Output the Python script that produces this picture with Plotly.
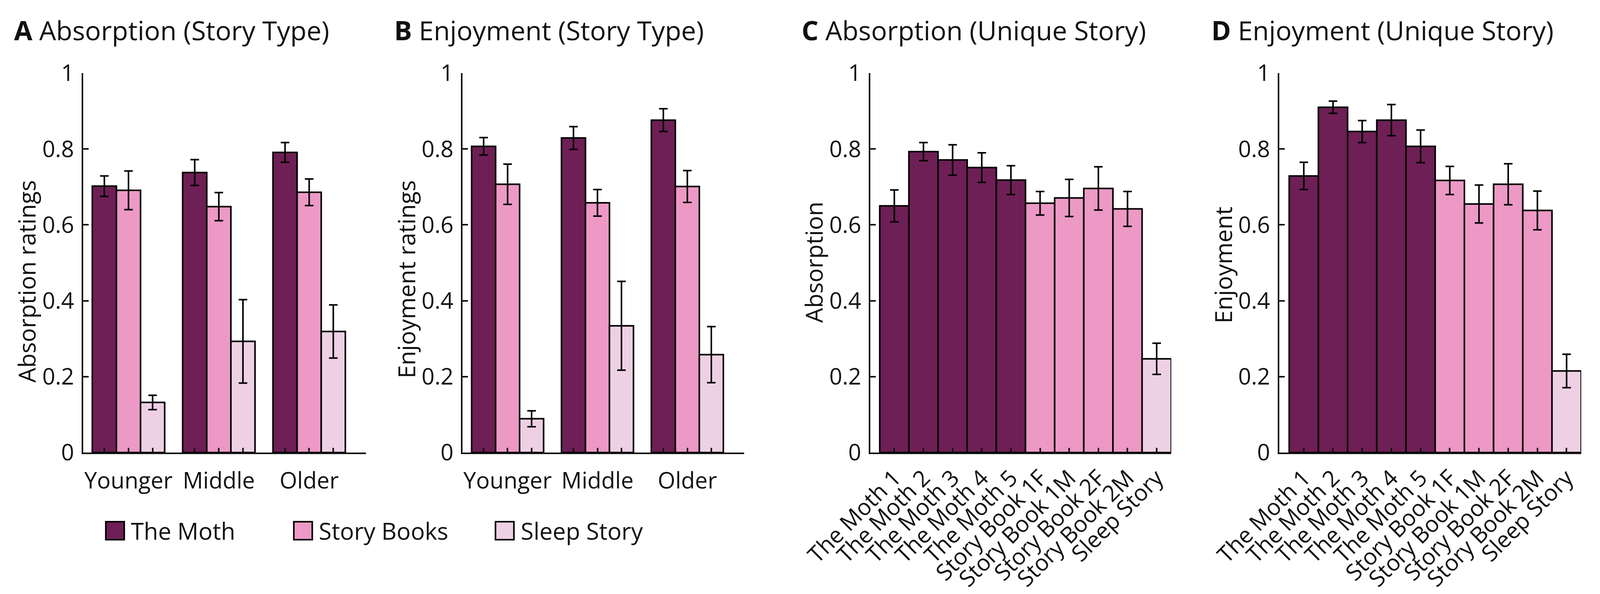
import plotly.graph_objects as go
import numpy as np

# The reference is 4340x1520; the browser viewport is 4096 px wide, so the figure
# is laid out in paper fractions of the reference and sized to the viewport.
REF_W, REF_H = 4340, 1520
W, H = 4096, 1520

# ---------------- data ----------------
groups = ["Younger", "Middle", "Older"]
series = ["The Moth", "Story Books", "Sleep Story"]
colors = ["#6E1F55", "#EC99C5", "#EED0E4"]

# Panel A: Absorption by story type
absA_moth = [0.702, 0.738, 0.791]
absA_moth_err = [0.027, 0.034, 0.026]
absA_books = [0.691, 0.648, 0.686]
absA_books_err = [0.051, 0.037, 0.035]
absA_sleep = [0.132, 0.293, 0.319]
absA_sleep_err = [0.019, 0.110, 0.070]

# Panel B: Enjoyment by story type
enjB_moth = [0.807, 0.829, 0.876]
enjB_moth_err = [0.023, 0.030, 0.030]
enjB_books = [0.707, 0.658, 0.701]
enjB_books_err = [0.053, 0.035, 0.042]
enjB_sleep = [0.089, 0.334, 0.258]
enjB_sleep_err = [0.021, 0.117, 0.074]

# Panels C/D: unique stories
stories = ["The Moth 1", "The Moth 2", "The Moth 3", "The Moth 4", "The Moth 5",
           "Story Book 1F", "Story Book 1M", "Story Book 2F", "Story Book 2M", "Sleep Story"]
story_type = [0, 0, 0, 0, 0, 1, 1, 1, 1, 2]
absC = [0.650, 0.793, 0.771, 0.751, 0.718, 0.657, 0.671, 0.696, 0.642, 0.247]
absC_err = [0.042, 0.024, 0.040, 0.039, 0.038, 0.031, 0.049, 0.057, 0.046, 0.041]
enjD = [0.729, 0.910, 0.846, 0.876, 0.807, 0.717, 0.655, 0.707, 0.638, 0.215]
enjD_err = [0.036, 0.016, 0.029, 0.041, 0.043, 0.037, 0.050, 0.054, 0.051, 0.044]

y_ticks = [0, 0.2, 0.4, 0.6, 0.8, 1]
y_ticktext = ["0", "0.2", "0.4", "0.6", "0.8", "1"]

# ---------------- layout helpers ----------------
FONT = "Open Sans"
TICK = 58
AX = "#111111"


def px_x(v):
    return v / REF_W


def px_y(v):
    return 1 - v / REF_H


ydom = [px_y(1158), px_y(187)]
xdoms = [[px_x(226), px_x(993)], [px_x(1255), px_x(2018)],
         [px_x(2361), px_x(3177)], [px_x(3470), px_x(4289)]]

fig = go.Figure()

bw = 0.267
offsets = [-bw, 0.0, bw]
gidx = np.arange(len(groups))

panelAB = [
    ([absA_moth, absA_books, absA_sleep], [absA_moth_err, absA_books_err, absA_sleep_err]),
    ([enjB_moth, enjB_books, enjB_sleep], [enjB_moth_err, enjB_books_err, enjB_sleep_err]),
]

for p, (vals, errs) in enumerate(panelAB):
    ax = "" if p == 0 else str(p + 1)
    for j in range(3):
        fig.add_trace(go.Bar(
            x=gidx + offsets[j], y=vals[j], width=bw,
            marker=dict(color=colors[j], line=dict(color="black", width=4)),
            error_y=dict(type="data", array=errs[j], thickness=4, width=11, color="black"),
            xaxis="x" + ax, yaxis="y" + ax, showlegend=False, name=series[j]))

sidx = np.arange(len(stories))
for p, (vals, errs) in enumerate([(absC, absC_err), (enjD, enjD_err)]):
    ax = str(p + 3)
    fig.add_trace(go.Bar(
        x=sidx, y=vals, width=1.0,
        marker=dict(color=[colors[t] for t in story_type], line=dict(color="black", width=4)),
        error_y=dict(type="data", array=errs, thickness=4, width=11, color="black"),
        xaxis="x" + ax, yaxis="y" + ax, showlegend=False))

# tick positions / labels for A,B
abx_vals = [g + o for g in gidx for o in offsets]
abx_text = [groups[g] if o == 0.0 else "" for g in gidx for o in offsets]

common_x = dict(showline=True, linecolor=AX, linewidth=4, ticks="inside", ticklen=12,
                tickwidth=4, tickcolor=AX, showgrid=False, zeroline=False, automargin=False,
                tickfont=dict(family=FONT, size=TICK, color="#111"))
common_y = dict(showline=True, linecolor=AX, linewidth=4, ticks="inside", ticklen=14,
                tickwidth=4, tickcolor=AX, showgrid=False, zeroline=False, range=[0, 1],
                tickvals=y_ticks, ticktext=y_ticktext, ticklabelstandoff=8, automargin=False,
                tickfont=dict(family=FONT, size=TICK, color="#111"))

layout = dict(width=W, height=H, margin=dict(l=0, r=0, t=0, b=0, autoexpand=False),
              paper_bgcolor="white", plot_bgcolor="white", barmode="overlay",
              font=dict(family=FONT, size=TICK, color="#111"))

for p in range(4):
    ax = "" if p == 0 else str(p + 1)
    xa = dict(common_x, domain=xdoms[p], anchor="y" + ax)
    ya = dict(common_y, domain=ydom, anchor="x" + ax)
    if p < 2:
        xa.update(range=[-0.5, 2.63], tickvals=abx_vals, ticktext=abx_text,
                  tickangle=0, ticklabelstandoff=18)
    else:
        xa.update(range=[-0.82 if p == 2 else -0.84, 9.5], tickvals=list(sidx),
                  ticktext=stories, tickangle=-45, ticklabelstandoff=4)
    layout["xaxis" + ax] = xa
    layout["yaxis" + ax] = ya

fig.update_layout(**layout)

# panel titles
titles = [("A", "Absorption (Story Type)", 36), ("B", "Enjoyment (Story Type)", 1067),
          ("C", "Absorption (Unique Story)", 2172), ("D", "Enjoyment (Unique Story)", 3284)]
for letter, txt, xp in titles:
    fig.add_annotation(text=f"<b>{letter}</b> {txt}", x=px_x(xp), y=px_y(76),
                       xref="paper", yref="paper", xanchor="left", yanchor="middle",
                       showarrow=False, font=dict(family=FONT, size=68, color="#111"))

# y axis titles
ytitles = [("Absorption ratings", 72, 720), ("Enjoyment ratings", 1102, 715),
           ("Absorption", 2207, 671), ("Enjoyment", 3318, 678)]
for txt, xp, yp in ytitles:
    fig.add_annotation(text=txt, x=px_x(xp), y=px_y(yp), xref="paper", yref="paper",
                       xanchor="center", yanchor="middle", textangle=-90, showarrow=False,
                       font=dict(family=FONT, size=60, color="#111"))

# legend (manual, large swatches)
leg_x = [287, 797, 1344]
leg_y = 1358
sw, sh = 50, 46
for j in range(3):
    fig.add_shape(type="rect", xref="paper", yref="paper",
                  x0=px_x(leg_x[j]), x1=px_x(leg_x[j] + sw),
                  y0=px_y(leg_y + sh / 2), y1=px_y(leg_y - sh / 2),
                  fillcolor=colors[j], line=dict(color="black", width=4))
    fig.add_annotation(text=series[j], x=px_x(leg_x[j] + sw + 16), y=px_y(leg_y),
                       xref="paper", yref="paper", xanchor="left", yanchor="middle",
                       showarrow=False, font=dict(family=FONT, size=60, color="#111"))

fig.write_html("out.html", config={"displayModeBar": False},
               post_script="document.body.style.margin='0';")
